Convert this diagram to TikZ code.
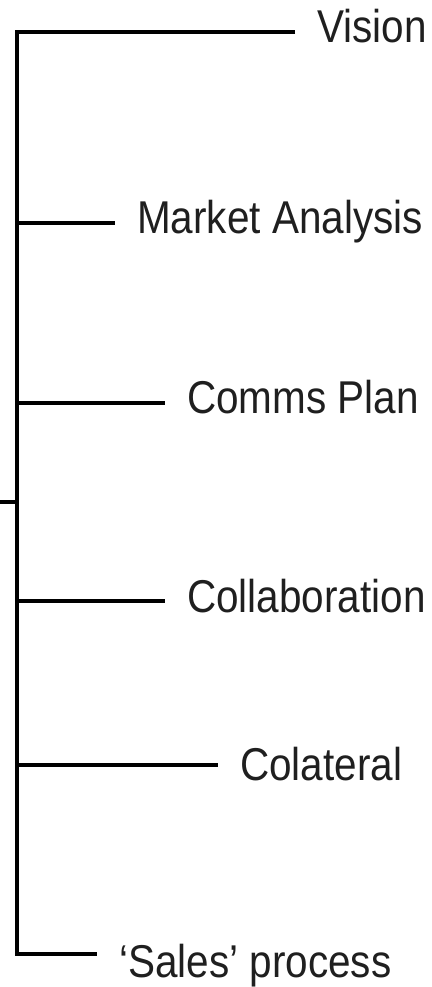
\documentclass[tikz,border=0pt]{standalone}
\usepackage{fontspec}
\setmainfont{Liberation Sans}[FakeStretch=0.88]
\usetikzlibrary{positioning}

\begin{document}
\begin{tikzpicture}[
    x=1pt, y=-1pt,
    item/.style={anchor=base west, inner xsep=22pt, inner ysep=0pt, text=black!88, font=\fontsize{46pt}{50pt}\selectfont},
    branch/.style={line width=3.2pt, black},
    spine/.style={line width=3.2pt, black, line join=miter}
]
\useasboundingbox (0,0) rectangle (431,987);

% Spine and root stub
\coordinate (top) at (17,32);
\coordinate (bottom) at (17,954);
\coordinate (root) at (0,502);
\coordinate (rootjoin) at (17,502);

% Items
\node[item] (vision) at (295,43) {Vision};
\node[item] (market) at (115,233) {Market Analysis};
\node[item] (comms) at (165,413) {Comms Plan};
\node[item] (collab) at (165,612) {Collaboration};
\node[item] (colat) at (218,780) {Colateral};
\node[item] (sales) at (97,977) {`Sales' process};

% Branch points on the spine
\coordinate (bmarket) at (17,223);
\coordinate (bcomms) at (17,403);
\coordinate (bcollab) at (17,601);
\coordinate (bcolat) at (17,765);

% Connectors
\draw[spine] (top -| vision.west) -- (top) -- (bottom) -- (bottom -| sales.west);
\draw[branch] (root) -- (rootjoin);
\draw[branch] (bmarket) -- (bmarket -| market.west);
\draw[branch] (bcomms) -- (bcomms -| comms.west);
\draw[branch] (bcollab) -- (bcollab -| collab.west);
\draw[branch] (bcolat) -- (bcolat -| colat.west);
\end{tikzpicture}
\end{document}
